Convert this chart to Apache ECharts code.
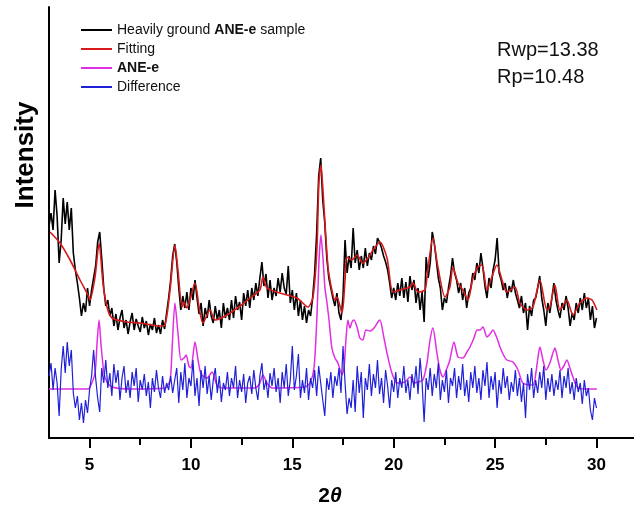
<!DOCTYPE html>
<html>
<head>
<meta charset="utf-8">
<script src="https://cdn.jsdelivr.net/npm/echarts/dist/echarts.min.js"></script>
<style>
  html, body { margin: 0; padding: 0; background: #ffffff; }
  #chart { width: 634px; height: 515px; }
</style>
</head>
<body>
<div id="chart"></div>
<script>
// Scan grid of the measured pattern (degrees 2-theta)
const scanStart = 3.0;
const scanStep = 0.1;

// Observed intensity, heavily ground ANE-e sample (arb. units), 3.0 .. 30.0 deg
const observed = [
  212, 225, 208, 248, 222, 175, 198, 240, 214, 236,
  208, 230, 185, 168, 155, 140, 122, 135, 126, 150,
  132, 148, 160, 172, 196, 206, 180, 150, 132, 138,
  122, 130, 112, 124, 108, 120, 128, 110, 118, 104,
  116, 125, 108, 119, 112, 106, 121, 110, 117, 103,
  114, 108, 120, 105, 113, 104, 118, 109, 125, 140,
  158, 182, 194, 176, 150, 128, 142, 130, 146, 128,
  150, 138, 158, 140, 124, 135, 112, 130, 120, 138,
  122, 115, 132, 118, 128, 110, 135, 120, 130, 118,
  138, 120, 142, 128, 136, 118, 145, 132, 148, 130,
  150, 138, 155, 142, 160, 176, 152, 164, 140, 158,
  138, 150, 142, 160, 146, 165, 150, 144, 172, 135,
  148, 128, 145, 122, 138, 118, 132, 115, 128, 122,
  140, 165, 205, 262, 280, 238, 215, 180, 160, 150,
  140, 132, 145, 125, 118, 142, 198, 165, 182, 170,
  210, 175, 188, 168, 182, 170, 190, 172, 185, 178,
  192, 184, 200, 196, 190, 182, 176, 168, 155, 140,
  150, 138, 155, 142, 160, 140, 156, 136, 162, 148,
  158, 135, 150, 128, 146, 116, 181, 160, 175, 206,
  195, 178, 160, 150, 128, 140, 135, 150, 162, 180,
  165, 158, 145, 155, 138, 150, 130, 145, 150, 165,
  158, 175, 165, 185, 170, 152, 140, 160, 150, 168,
  178, 200, 165, 158, 148, 155, 140, 152, 146, 158,
  145, 138, 130, 142, 125, 135, 108, 132, 122, 138,
  140, 150, 162, 140, 128, 112, 135, 125, 140, 155,
  138, 128, 120, 135, 128, 142, 130, 112, 125, 118,
  135, 125, 140, 128, 145, 130, 140, 118, 132, 110,
  120
];

// Difference curve (observed - calculated), offset below the pattern, 3.0 .. 30.0 deg
const difference = [
  62, 75, 48, 70, 55, 22, 68, 92, 65, 96,
  72, 88, 45, 30, 42, 18, 35, 15, 38, 25,
  48, 62, 88, 60, 40, 26, 70, 55, 78, 50,
  65, 42, 74, 55, 68, 38, 60, 72, 45, 58,
  40, 66, 52, 70, 36, 58, 48, 64, 42, 56,
  30, 60, 46, 68, 50, 40, 62, 45, 55, 48,
  62, 45, 58, 70, 35, 66, 48, 75, 40, 60,
  52, 78, 42, 60, 32, 68, 50, 72, 44, 62,
  38, 58, 70, 45, 62, 36, 55, 48, 66, 42,
  60, 50, 72, 40, 58, 46, 64, 35, 55, 62,
  44, 68, 50, 38, 62, 75, 48, 58, 40, 65,
  52, 70, 46, 60, 35, 66, 50, 74, 42, 58,
  92, 48, 62, 84, 40, 58, 45, 70, 38, 60,
  50, 68, 42, 72, 55, 38, 22, 60, 48, 66,
  40, 62, 52, 70, 45, 92, 55, 24, 40, 30,
  58, 26, 72, 45, 66, 20, 60, 48, 74, 42,
  64, 50, 78, 44, 60, 35, 68, 52, 30, 58,
  46, 66, 40, 60, 50, 72, 45, 58, 38, 64,
  50, 72, 44, 80, 55, 16, 60, 48, 70, 42,
  64, 50, 75, 38, 58, 46, 68, 35, 60, 52,
  70, 40, 62, 48, 74, 42, 58, 36, 66, 50,
  72, 45, 60, 38, 68, 52, 76, 40, 62, 48,
  66, 30, 58, 44, 70, 50, 62, 38, 56, 46,
  68, 42, 60, 36, 55, 20, 64, 48, 70, 40,
  58, 45, 66, 50, 72, 38, 60, 46, 64, 42,
  58, 48, 68, 40, 62, 50, 70, 44, 56, 38,
  60, 46, 55, 34, 58, 42, 50, 28, 18, 40,
  30
];

// Rietveld fit (calculated total profile)
const fitTheta = [
  3.05, 3.54, 4.04, 4.53, 4.92, 5.02, 5.27, 5.47, 5.66, 5.86,
  6.11, 6.85, 7.49, 8.47, 8.72, 8.97, 9.21, 9.36, 9.56, 9.66,
  9.80, 10.2, 10.4, 10.59, 10.94, 11.19, 11.78, 12.42, 12.91, 13.40,
  13.55, 13.75, 14.39, 15.23, 15.77, 16.02, 16.21, 16.31, 16.41, 16.51,
  16.61, 16.76, 16.95, 17.10, 17.20, 17.45, 17.60, 17.69, 17.94, 18.19,
  18.48, 18.73, 18.98, 19.32, 19.67, 19.96, 20.31, 20.80, 20.95, 21.20,
  21.54, 21.64, 21.93, 22.18, 22.53, 22.77, 22.92, 23.17, 23.41, 23.66,
  23.91, 24.15, 24.35, 24.60, 24.84, 25.09, 25.34, 25.58, 25.98, 26.22,
  26.57, 26.87, 27.21, 27.56, 27.70, 27.95, 28.20, 28.54, 28.84, 29.18,
  29.53, 29.78, 30.02
];
const fitIntensity = [
  206, 195, 178, 158, 143, 138, 161, 195, 155, 131,
  120, 116, 115, 112, 113, 148, 193, 168, 131, 136,
  130, 155, 131, 115, 128, 118, 123, 132, 140, 148,
  161, 150, 145, 140, 131, 141, 188, 255, 273, 248,
  215, 171, 148, 138, 141, 125, 158, 181, 178, 183,
  175, 180, 188, 196, 180, 146, 148, 151, 155, 146,
  148, 161, 200, 171, 141, 151, 171, 155, 148, 138,
  160, 171, 173, 148, 161, 173, 158, 146, 151, 135,
  128, 131, 158, 128, 131, 153, 128, 138, 123, 135,
  140, 138, 128
];

// Calculated pattern of the ANE-e phase (offset)
const phaseTheta = [
  3.0, 4.92, 5.07, 5.27, 5.37, 5.47, 5.56, 5.71, 5.86, 6.11,
  7.0, 8.72, 8.97, 9.06, 9.21, 9.36, 9.51, 9.66, 9.76, 9.90,
  10.0, 10.2, 10.35, 10.5, 10.79, 11.04, 11.28, 11.53, 13.16, 13.4,
  13.55, 13.75, 14.0, 15.62, 15.87, 16.07, 16.21, 16.31, 16.41, 16.51,
  16.61, 16.71, 16.81, 16.95, 17.1, 17.25, 17.45, 17.55, 17.65, 17.74,
  17.84, 17.94, 18.04, 18.19, 18.33, 18.48, 18.63, 18.83, 19.03, 19.22,
  19.32, 19.52, 19.67, 19.91, 20.16, 20.55, 20.8, 21.0, 21.2, 21.44,
  21.64, 21.79, 21.93, 22.13, 22.28, 22.43, 22.63, 22.77, 22.97, 23.17,
  23.41, 23.61, 23.76, 23.96, 24.11, 24.25, 24.40, 24.6, 24.75, 24.89,
  25.09, 25.24, 25.44, 25.58, 25.88, 26.13, 26.37, 26.87, 27.01, 27.11,
  27.21, 27.36, 27.51, 27.70, 27.85, 27.95, 28.1, 28.25, 28.39, 28.54,
  28.69, 28.84, 29.04, 29.43, 30.02
];
const phaseIntensity = [
  49, 49, 53, 65, 95, 118, 95, 65, 56, 51,
  49, 50, 58, 85, 135, 105, 78, 80, 83, 72,
  70, 96, 78, 64, 60, 66, 53, 50, 50, 55,
  63, 55, 50, 51, 55, 70, 120, 175, 203, 180,
  150, 135, 118, 90, 80, 75, 63, 70, 100, 118,
  110, 116, 118, 111, 100, 98, 108, 107, 110, 116,
  118, 100, 85, 65, 55, 56, 61, 55, 56, 58,
  75, 98, 110, 85, 68, 61, 70, 78, 96, 81,
  80, 86, 91, 100, 108, 108, 111, 101, 104, 108,
  100, 91, 82, 78, 76, 68, 55, 53, 65, 80,
  91, 78, 68, 75, 85, 90, 78, 68, 72, 78,
  70, 61, 51, 49, 49
];

// Axis ticks (degrees 2-theta)
const majorTicks = [5, 10, 15, 20, 25, 30];
const minorTicks = [7.5, 12.5, 17.5, 22.5, 27.5];

const seriesNames = ['Heavily ground ANE-e sample', 'Fitting', 'ANE-e', 'Difference'];
const seriesColors = ['#000000', '#d81a1a', '#e22ee2', '#2020d8'];

const FONT = '"Liberation Sans", Arial, sans-serif';

function onScan(values) {
  return values.map((v, i) => [+(scanStart + i * scanStep).toFixed(2), v]);
}
function pairs(xs, ys) {
  return xs.map((x, i) => [x, ys[i]]);
}

const gridBox = { left: 49, right: 0, top: 7, bottom: 77 };
const xMin = 3, xMax = 31.85;

const chart = echarts.init(document.getElementById('chart'), null, { renderer: 'canvas' });

chart.setOption({
  animation: false,
  backgroundColor: '#ffffff',
  grid: [
    Object.assign({ containLabel: false }, gridBox),
    Object.assign({ containLabel: false }, gridBox)
  ],
  xAxis: [
    {
      type: 'value', gridIndex: 0, min: xMin, max: xMax, position: 'bottom',
      axisLine: { show: true, onZero: false, lineStyle: { color: '#000', width: 2 } },
      axisTick: { show: true, inside: false, length: 10, customValues: majorTicks, lineStyle: { color: '#000', width: 2 } },
      axisLabel: { show: true, customValues: majorTicks, margin: 19, fontSize: 17, fontWeight: 'bold', color: '#000', fontFamily: FONT },
      splitLine: { show: false }
    },
    {
      type: 'value', gridIndex: 1, min: xMin, max: xMax, position: 'bottom',
      axisLine: { show: false, onZero: false },
      axisTick: { show: true, inside: false, length: 7, customValues: minorTicks, lineStyle: { color: '#000', width: 2 } },
      axisLabel: { show: false },
      splitLine: { show: false }
    }
  ],
  yAxis: [
    {
      type: 'value', gridIndex: 0, min: 0, max: 431,
      axisLine: { show: true, onZero: false, lineStyle: { color: '#000', width: 2 } },
      axisTick: { show: false }, axisLabel: { show: false }, splitLine: { show: false }
    },
    {
      type: 'value', gridIndex: 1, min: 0, max: 431, show: false
    }
  ],
  legend: {
    orient: 'vertical', left: 76, top: 17,
    itemWidth: 31, itemHeight: 2, itemGap: 3, icon: 'rect',
    data: seriesNames,
    textStyle: {
      fontSize: 14, fontFamily: FONT, color: '#111', lineHeight: 16,
      rich: { b: { fontSize: 14, fontFamily: FONT, fontWeight: 'bold', color: '#111', lineHeight: 16 } }
    },
    formatter: name => name.replace('ANE-e', '{b|ANE-e}')
  },
  graphic: [
    { type: 'text', left: 497, top: 40, style: { text: 'Rwp=13.38', fontSize: 20, fontFamily: FONT, fill: '#111' } },
    { type: 'text', left: 497, top: 67, style: { text: 'Rp=10.48', fontSize: 20, fontFamily: FONT, fill: '#111' } },
    {
      type: 'text', x: 26, y: 155, rotation: Math.PI / 2,
      style: { text: 'Intensity', fontSize: 26, fontWeight: 'bold', fontFamily: FONT, fill: '#000', textAlign: 'center', textVerticalAlign: 'middle' }
    },
    {
      type: 'text', x: 330, y: 496,
      style: {
        text: '{n|2}{t|θ}', textAlign: 'center', textVerticalAlign: 'middle',
        rich: {
          n: { fontSize: 21, fontWeight: 'bold', fontFamily: FONT, fill: '#000' },
          t: { fontSize: 21, fontWeight: 'bold', fontStyle: 'italic', fontFamily: FONT, fill: '#000' }
        }
      }
    }
  ],
  series: [
    {
      name: seriesNames[0], type: 'line', data: onScan(observed),
      showSymbol: false, symbol: 'none', color: seriesColors[0],
      lineStyle: { color: seriesColors[0], width: 1.6 }, z: 2
    },
    {
      name: seriesNames[1], type: 'line', data: pairs(fitTheta, fitIntensity),
      showSymbol: false, symbol: 'none', smooth: 0.25, color: seriesColors[1],
      lineStyle: { color: seriesColors[1], width: 1.6 }, z: 3
    },
    {
      name: seriesNames[2], type: 'line', data: pairs(phaseTheta, phaseIntensity),
      showSymbol: false, symbol: 'none', smooth: 0.25, color: seriesColors[2],
      lineStyle: { color: seriesColors[2], width: 1.5 }, z: 2
    },
    {
      name: seriesNames[3], type: 'line', data: onScan(difference),
      showSymbol: false, symbol: 'none', color: seriesColors[3],
      lineStyle: { color: seriesColors[3], width: 1.2 }, z: 3
    }
  ]
});
</script>
</body>
</html>
